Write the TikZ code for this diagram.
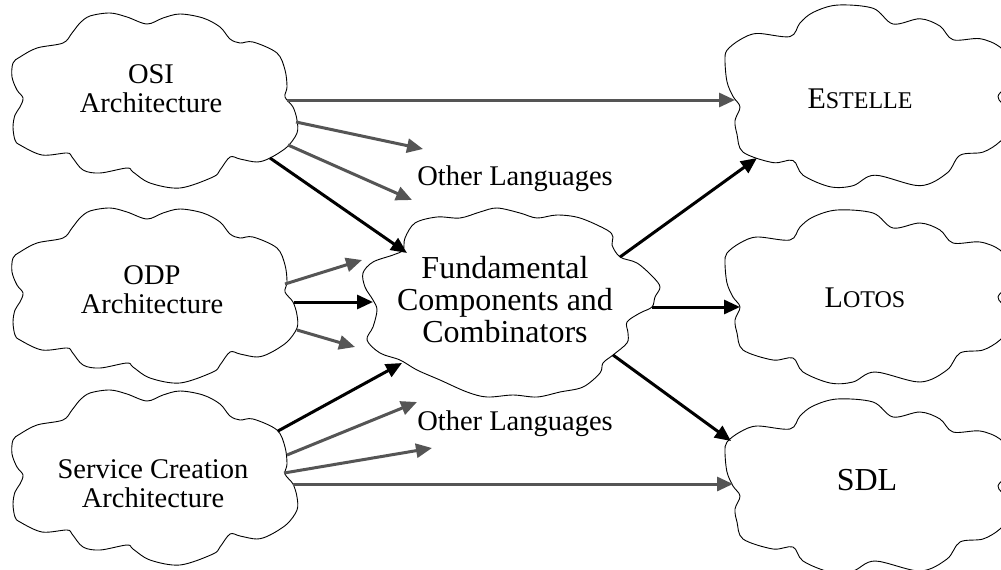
\documentclass[tikz,border=0pt]{standalone}
\usepackage{fontspec}
\setmainfont{Liberation Serif}
\usetikzlibrary{arrows.meta,calc}
\definecolor{linkgray}{RGB}{85,85,85}
\newcommand\capsmall[1]{{\fontsize{24}{24}\selectfont #1}}
\tikzset{
  cloudline/.style={draw=black, line width=0.9pt},
  lbl/.style={anchor=base, align=center, inner sep=0pt, font=\fontsize{28.5}{29}\selectfont},
  biglbl/.style={anchor=base, align=center, inner sep=0pt, font=\fontsize{32}{32}\selectfont},
  capslbl/.style={anchor=base, inner sep=0pt, font=\fontsize{30}{30}\selectfont},
  feed/.style={draw=black, line width=3pt, -{Triangle[length=16pt,width=14pt]}},
  aside/.style={draw=linkgray, line width=3pt, -{Triangle[length=16pt,width=14pt]}},
  % cloud outline used for the architectures on the left
  leftcloud/.pic={
    \draw[cloudline] plot[smooth cycle, tension=0.55] coordinates {
      (11,85) (5,77) (0,64) (1,50) (8,44) (25,35) (51,30) (60,20) (68,10)
      (78,3) (98,0) (115,4) (135,11) (151,5) (168,1) (191,5) (208,14)
      (218,26) (228,30) (241,29) (265,40) (273,57) (275,74) (273,84)
      (281,94) (285,107) (285,120) (275,134) (258,145) (245,149) (228,146)
      (218,144) (208,157) (201,164) (168,175) (138,170) (121,159) (115,155)
      (88,160) (71,157) (60,144) (55,140) (30,142) (8,132) (3,127) (1,114)
      (3,102) (8,94)};
  },
  % cloud outline used for the languages on the right
  rightcloud/.pic={
    \draw[cloudline] plot[smooth cycle, tension=0.55] coordinates {
      (15,99) (8,89) (2,75) (0,55) (2,45) (15,35) (32,29) (65,32) (75,19)
      (88,9) (112,2) (148,5) (168,20) (195,15) (215,22) (228,35) (255,34)
      (275,42) (285,57) (287,74) (273,89) (283,102) (287,117) (275,132)
      (258,142) (235,145) (222,162) (195,174) (150,164) (128,174) (105,175)
      (78,164) (68,150) (48,152) (18,142) (12,125) (10,112)};
  },
}
\begin{document}
\begin{tikzpicture}[x=1pt, y=-1pt]
\useasboundingbox (0,0) rectangle (1001,570);
\clip (0,0) rectangle (1001,570);

% clouds
\pic at (12,13) {leftcloud};
\pic at (12,208) {leftcloud};
\pic at (12,390) {leftcloud};
\pic[yscale=1.05] at (725,3) {rightcloud};
\pic at (725,208) {rightcloud};
\pic at (725,397) {rightcloud};
\draw[cloudline] plot[smooth cycle, tension=0.55] coordinates {
  (405,238) (415,223) (437,217) (460,218) (480,212) (497,208) (520,213)
  (537,218) (557,215) (580,218) (607,230) (613,237) (612,245) (620,257)
  (637,263) (653,277) (660,287) (655,297) (652,307) (640,313) (627,322)
  (628,333) (627,343) (613,355) (603,363) (600,373) (583,387) (560,392)
  (537,397) (513,395) (487,397) (467,392) (440,380) (417,370) (400,360)
  (380,353) (367,340) (373,327) (377,310) (373,300) (365,287) (363,273)
  (373,262) (393,255) (403,250)};

% labels (base = baseline of the last line)
\node[lbl] (osi) at (151,112) {OSI\\Architecture};
\node[lbl] (odp) at (152,313) {ODP\\Architecture};
\node[lbl] (sca) at (153,507) {Service Creation\\Architecture};
\node[biglbl] (fund) at (505,342) {Fundamental\\Components and\\Combinators};
\node[capslbl] (estelle) at (860,108) {E\capsmall{STELLE}};
\node[capslbl] (lotos) at (865,307) {L\capsmall{OTOS}};
\node[biglbl] (sdl) at (867,490) {SDL};
\node[lbl] (other1) at (515,185) {Other Languages};
\node[lbl] (other2) at (515,430) {Other Languages};

% connectors from OSI
\draw[aside] ($(osi.base)+(136,-12)$) -- ($(estelle.base)+(-125,-8)$);
\draw[aside] ($(osi.base)+(145,10)$) -- ($(other1.base)+(-92,-36)$);
\draw[aside] ($(osi.base)+(137,33)$) -- ($(other1.base)+(-103,15)$);
\draw[feed]  ($(osi.base)+(119,46)$) -- ($(fund.base)+(-98,-89)$);

% connectors from ODP
\draw[aside] ($(odp.base)+(133,-29)$) -- ($(fund.base)+(-143,-82)$);
\draw[feed]  ($(odp.base)+(142,-11)$) -- ($(fund.base)+(-132,-40)$);
\draw[aside] ($(odp.base)+(145,17)$) -- ($(fund.base)+(-150,5)$);

% connectors from Service Creation
\draw[feed]  ($(sca.base)+(125,-76)$) -- ($(fund.base)+(-103,21)$);
\draw[aside] ($(sca.base)+(134,-52)$) -- ($(other2.base)+(-98,-28)$);
\draw[aside] ($(sca.base)+(131,-34)$) -- ($(other2.base)+(-83,18)$);
\draw[aside] ($(sca.base)+(140,-23)$) -- ($(sdl.base)+(-134,-6)$);

% connectors to the languages
\draw[feed] ($(fund.base)+(115,-85)$) -- ($(estelle.base)+(-103,50)$);
\draw[feed] ($(fund.base)+(147,-35)$) -- ($(lotos.base)+(-125,0)$);
\draw[feed] ($(fund.base)+(108,13)$) -- ($(sdl.base)+(-136,-49)$);
\end{tikzpicture}
\end{document}
